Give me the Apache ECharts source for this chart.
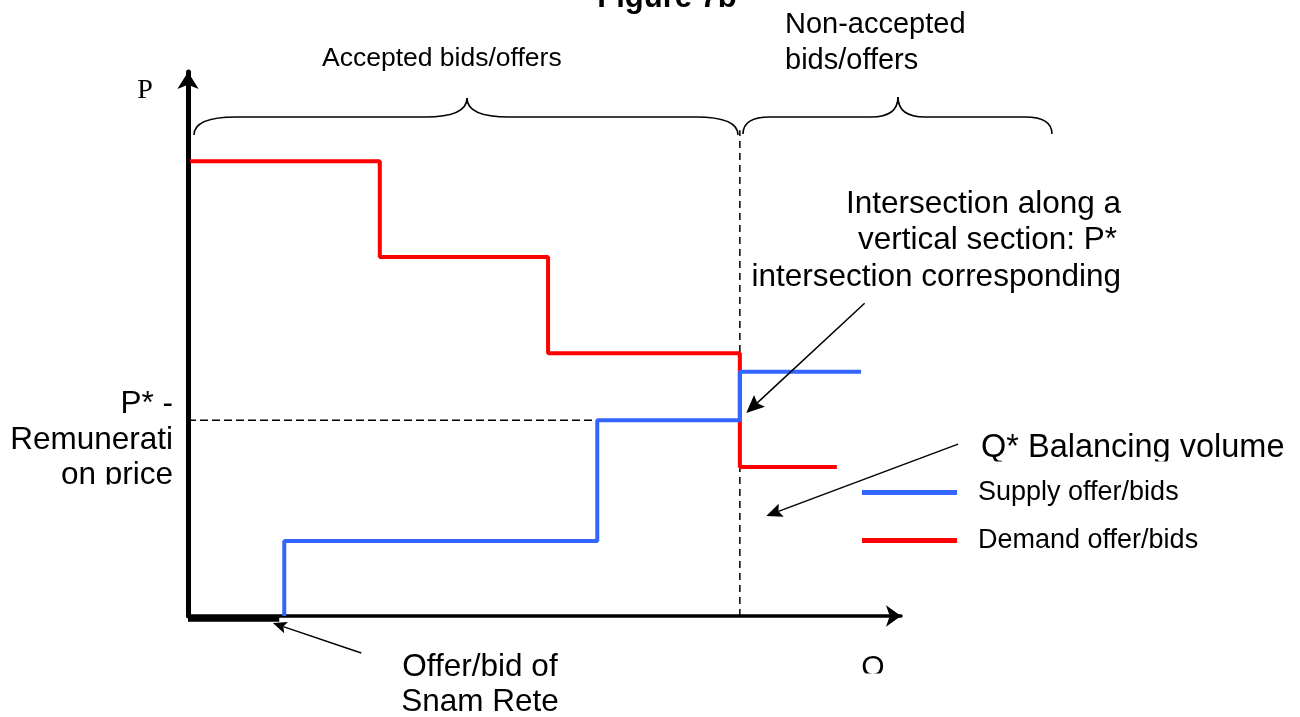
<!DOCTYPE html>
<html><head><meta charset="utf-8">
<script src="https://cdn.jsdelivr.net/npm/echarts@6/dist/echarts.min.js"></script>
<style>html,body{margin:0;padding:0;background:#fff}#c{width:1300px;height:717px}</style>
</head><body><div id="c"></div>
<script>
// ---- data (Q = quantity, P = price; arbitrary units 0..100) ----
const supplyQ = [13.5, 57.4, 77.4, 94.4];
const supplyP = [0, 13.8, 36.0, 44.9];
const demandQ = [0.3, 26.9, 50.5, 77.4, 91.0];
const demandP = [83.6, 66.0, 48.3, 27.4, 27.4];
const pStar = 36.0;          // remuneration price
const qStar = 77.4;          // balancing volume
const qStarLineTop = 89.3;
const snamQ = 12.8;          // Snam Rete offer/bid length
const seriesNames = ['Supply offer/bids', 'Demand offer/bids'];
// annotation arrows: [fromQ, fromP, tipQ, tipP]
const arrowsQP = [[94.9, 57.5, 78.3, 37.3], [108.0, 31.6, 81.1, 18.4], [24.3, -6.8, 11.9, -1.3]];

const FONT = '"Liberation Sans", Arial, sans-serif';
const zip = (a, b) => a.map((v, i) => [v, b[i]]);

const chart = echarts.init(document.getElementById('c'), null, {renderer: 'canvas'});

function txt(text, x, y, size, align, weight) {
  return {
    type: 'text', x: x, y: y, z: 100,
    style: {
      text: text, fontSize: size, fontFamily: FONT, fontWeight: weight || 'normal', fill: '#000',
      align: align, textAlign: align, verticalAlign: 'middle', textVerticalAlign: 'middle'
    }
  };
}
const BR = {stroke: '#000', lineWidth: 1.6, fill: null};
function brace(x1, x2, xm, r, ye, yb, yt) {
  return [
    {type: 'bezierCurve', z: 100, shape: {x1: x1, y1: ye, cpx1: x1, cpy1: yb, x2: x1 + r, y2: yb}, style: BR},
    {type: 'line', z: 100, shape: {x1: x1 + r, y1: yb, x2: xm - r, y2: yb}, style: BR},
    {type: 'bezierCurve', z: 100, shape: {x1: xm - r, y1: yb, cpx1: xm, cpy1: yb, x2: xm, y2: yt}, style: BR},
    {type: 'bezierCurve', z: 100, shape: {x1: xm, y1: yt, cpx1: xm, cpy1: yb, x2: xm + r, y2: yb}, style: BR},
    {type: 'line', z: 100, shape: {x1: xm + r, y1: yb, x2: x2 - r, y2: yb}, style: BR},
    {type: 'bezierCurve', z: 100, shape: {x1: x2 - r, y1: yb, cpx1: x2, cpy1: yb, x2: x2, y2: ye}, style: BR}
  ];
}
function whiteRect(x, y, w, h) {
  return {type: 'rect', z: 110, shape: {x: x, y: y, width: w, height: h}, style: {fill: '#fff'}};
}
// arrow from data point to data point, converted through the chart's own scales
function arrow(a, L, W) {
  const s = chart.convertToPixel({gridIndex: 0}, [a[0], a[1]]);
  const t = chart.convertToPixel({gridIndex: 0}, [a[2], a[3]]);
  const dx = t[0] - s[0], dy = t[1] - s[1];
  const len = Math.sqrt(dx * dx + dy * dy), ux = dx / len, uy = dy / len;
  const N = 3;
  const bx = t[0] - ux * L, by = t[1] - uy * L;
  const nx = t[0] - ux * (L - N), ny = t[1] - uy * (L - N);
  return [
    {type: 'line', z: 100, shape: {x1: s[0], y1: s[1], x2: nx, y2: ny}, style: {stroke: '#000', lineWidth: 1.5}},
    {type: 'polygon', z: 100, shape: {points: [[t[0], t[1]], [bx - uy * W, by + ux * W], [nx, ny], [bx + uy * W, by - ux * W]]},
      style: {fill: '#000'}}
  ];
}

const option = {
  animation: false,
  backgroundColor: '#fff',
  grid: {left: 188, right: 399, top: 72, bottom: 101, containLabel: false},
  xAxis: {
    type: 'value', min: 0, max: 100,
    axisLine: {show: true, onZero: false, symbol: ['none', 'arrow'], symbolSize: [16, 15],
      lineStyle: {color: '#000', width: 3.5}},
    axisTick: {show: false}, axisLabel: {show: false}, splitLine: {show: false}
  },
  yAxis: {
    type: 'value', min: 0, max: 100,
    axisLine: {show: true, onZero: false, symbol: ['none', 'arrow'], symbolSize: [16, 17],
      lineStyle: {color: '#000', width: 5}},
    axisTick: {show: false}, axisLabel: {show: false}, splitLine: {show: false}
  },
  legend: {
    data: seriesNames, orient: 'vertical', left: 857, top: 474,
    itemWidth: 95, itemHeight: 5, itemGap: 21, icon: 'rect', selectedMode: false,
    textStyle: {fontSize: 27, fontFamily: FONT, color: '#000', padding: [0, 0, 0, 16]}
  },
  series: [
    {
      name: 'P* level', type: 'line', silent: true, symbol: 'none',
      data: [[0, pStar], [qStar, pStar]],
      lineStyle: {color: '#000', width: 1.5, type: [8, 4]}
    },
    {
      name: 'Q* level', type: 'line', silent: true, symbol: 'none',
      data: [[qStar, 0], [qStar, qStarLineTop]],
      lineStyle: {color: '#000', width: 1.5, type: [7, 5]}
    },
    {
      name: 'Snam Rete', type: 'line', silent: true, symbol: 'none', clip: false,
      data: [[0, -0.5], [snamQ, -0.5]],
      lineStyle: {color: '#000', width: 6}
    },
    {
      name: seriesNames[1], type: 'line', step: 'end', symbol: 'none', silent: true,
      color: '#FF0000', itemStyle: {color: '#FF0000'},
      data: zip(demandQ, demandP),
      lineStyle: {color: '#FF0000', width: 4}
    },
    {
      name: seriesNames[0], type: 'line', step: 'start', symbol: 'none', silent: true,
      color: '#3366FF', itemStyle: {color: '#3366FF'},
      data: zip(supplyQ, supplyP),
      lineStyle: {color: '#3366FF', width: 4}
    }
  ]
};
chart.setOption(option);

let graphics = [
  txt('Figure 7b', 667, -1.5, 31, 'center', 'bold'),
  txt('Accepted bids/offers', 322, 58.8, 26.5, 'left'),
  txt('Non-accepted', 785, 24.7, 29, 'left'),
  txt('bids/offers', 785, 61.4, 29, 'left'),
  txt('Intersection along a', 1121, 204.2, 31.5, 'right'),
  txt('vertical section: P*', 1117, 240.2, 31.5, 'right'),
  txt('intersection corresponding', 1121, 276.9, 31.5, 'right'),
  txt('P* -', 173, 404, 31.5, 'right'),
  txt('Remunerati', 173, 440.5, 31.5, 'right'),
  txt('on price', 173, 475.5, 31.5, 'right'),
  txt('Q* Balancing volume', 981, 448.5, 32.5, 'left'),
  txt('Offer/bid of', 480, 667, 31.5, 'center'),
  txt('Snam Rete', 480, 702.5, 31.5, 'center'),
  txt('Q', 873, 667.5, 30, 'center'),
  {type: 'text', x: 145, y: 91, z: 100, style: {text: 'P', fontSize: 28, fontFamily: '"Liberation Serif", "Times New Roman", serif', fill: '#000', align: 'center', textAlign: 'center', verticalAlign: 'middle', textVerticalAlign: 'middle'}}
];
graphics = graphics.concat(
  brace(194, 738, 467, 42, 135, 117, 98),
  brace(743, 1052, 898, 27, 134, 117, 97)
);
graphics = graphics.concat(arrow(arrowsQP[0], 18, 8), arrow(arrowsQP[1], 16, 7), arrow(arrowsQP[2], 14, 6));
graphics = graphics.concat([whiteRect(0, 484.5, 182, 20), whiteRect(975, 461.5, 320, 14), whiteRect(850, 673.5, 50, 20)]);
chart.setOption({graphic: graphics});
</script>
</body></html>
